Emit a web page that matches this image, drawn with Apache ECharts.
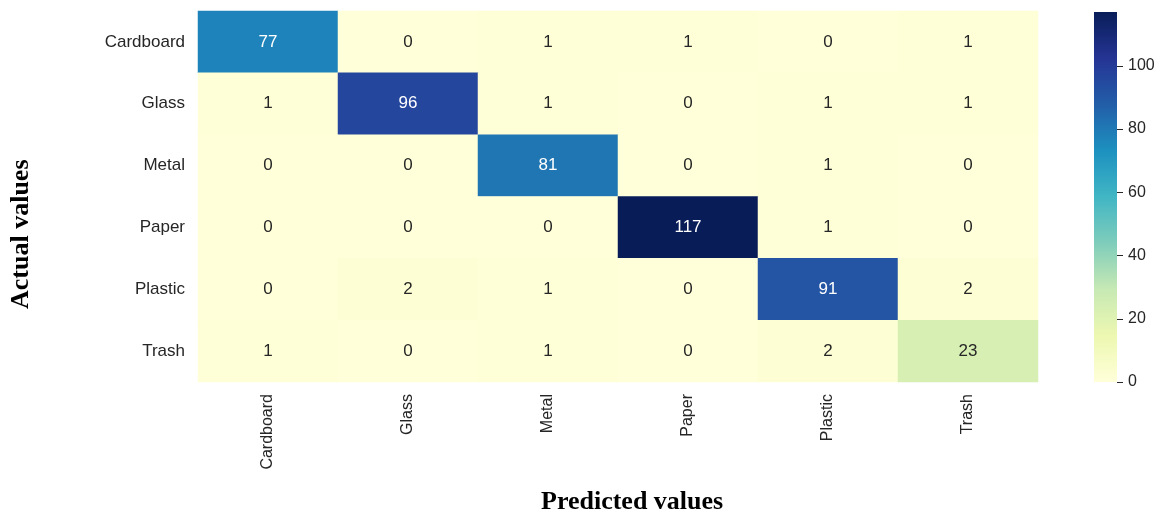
<!DOCTYPE html>
<html>
<head>
<meta charset="utf-8">
<style>
  html, body { margin: 0; padding: 0; background: #ffffff; }
  #chart { width: 1164px; height: 516px; }
</style>
<script src="https://cdn.jsdelivr.net/npm/echarts@6/dist/echarts.min.js"></script>
</head>
<body>
<div id="chart"></div>
<script>
// Confusion matrix of the waste classifier (rows: actual, columns: predicted)
const classes = ['Cardboard', 'Glass', 'Metal', 'Paper', 'Plastic', 'Trash'];
const rowCardboard = [77, 0, 1, 1, 0, 1];
const rowGlass     = [1, 96, 1, 0, 1, 1];
const rowMetal     = [0, 0, 81, 0, 1, 0];
const rowPaper     = [0, 0, 0, 117, 1, 0];
const rowPlastic   = [0, 2, 1, 0, 91, 2];
const rowTrash     = [1, 0, 1, 0, 2, 23];
const colorbarTicks = [0, 20, 40, 60, 80, 100];

const matrix = [rowCardboard, rowGlass, rowMetal, rowPaper, rowPlastic, rowTrash];

// YlGnBu colour ramp
const ylgnbu = ['#ffffd9', '#edf8b1', '#c7e9b4', '#7fcdbb', '#41b6c4',
                '#1d91c0', '#225ea8', '#253494', '#081d58'];

let vmax = 0;
matrix.forEach(r => r.forEach(v => { if (v > vmax) vmax = v; }));

const cells = [];
matrix.forEach((row, i) => {
  row.forEach((v, j) => {
    cells.push({
      value: [j, i, v],
      label: { color: v > vmax * 0.45 ? '#ffffff' : '#262626' }
    });
  });
});

const chart = echarts.init(document.getElementById('chart'), null, { renderer: 'canvas' });

chart.setOption({
  animation: false,
  backgroundColor: '#ffffff',
  grid: [
    { left: 198, top: 11, width: 840, height: 371 },
    { left: 1094, top: 12, width: 23, height: 370 }
  ],
  xAxis: [
    {
      type: 'category', gridIndex: 0, data: classes,
      axisLine: { show: false }, axisTick: { show: false },
      splitLine: { show: false },
      axisLabel: {
        rotate: 90, margin: 12, fontSize: 16,
        fontFamily: 'Liberation Sans, Arial, sans-serif', color: '#262626'
      }
    },
    {
      type: 'category', gridIndex: 1, data: [''],
      axisLine: { show: false }, axisTick: { show: false },
      axisLabel: { show: false }
    }
  ],
  yAxis: [
    {
      type: 'category', gridIndex: 0, data: classes, inverse: true,
      axisLine: { show: false }, axisTick: { show: false },
      splitLine: { show: false },
      axisLabel: {
        margin: 13, fontSize: 17,
        fontFamily: 'Liberation Sans, Arial, sans-serif', color: '#262626'
      }
    },
    {
      type: 'value', gridIndex: 1, position: 'right',
      min: 0, max: vmax,
      axisLine: { show: false },
      splitLine: { show: false },
      axisTick: {
        show: true, length: 6, inside: false,
        customValues: colorbarTicks,
        lineStyle: { color: '#262626', width: 1 }
      },
      axisLabel: {
        margin: 11, fontSize: 16,
        customValues: colorbarTicks,
        fontFamily: 'Liberation Sans, Arial, sans-serif', color: '#262626'
      }
    }
  ],
  visualMap: {
    show: false, type: 'continuous', seriesIndex: 0,
    min: 0, max: vmax, dimension: 2,
    inRange: { color: ylgnbu }
  },
  series: [
    {
      type: 'heatmap',
      xAxisIndex: 0, yAxisIndex: 0,
      data: cells,
      label: {
        show: true, fontSize: 17,
        fontFamily: 'Liberation Sans, Arial, sans-serif',
        formatter: p => String(p.value[2])
      },
      itemStyle: { borderWidth: 0 }
    },
    {
      type: 'bar',
      xAxisIndex: 1, yAxisIndex: 1,
      data: [vmax],
      barWidth: '100%',
      silent: true,
      itemStyle: {
        color: {
          type: 'linear', x: 0, y: 1, x2: 0, y2: 0,
          colorStops: ylgnbu.map((c, k) => ({ offset: k / (ylgnbu.length - 1), color: c }))
        }
      }
    }
  ],
  graphic: [
    {
      type: 'text', left: 541, top: 489,
      style: {
        text: 'Predicted values',
        font: 'bold 26px "Liberation Serif", "Times New Roman", serif',
        fill: '#000000'
      }
    },
    {
      type: 'text', x: 8, y: 309, rotation: Math.PI / 2,
      style: {
        text: 'Actual values',
        font: 'bold 26px "Liberation Serif", "Times New Roman", serif',
        fill: '#000000'
      }
    }
  ]
});
</script>
</body>
</html>
